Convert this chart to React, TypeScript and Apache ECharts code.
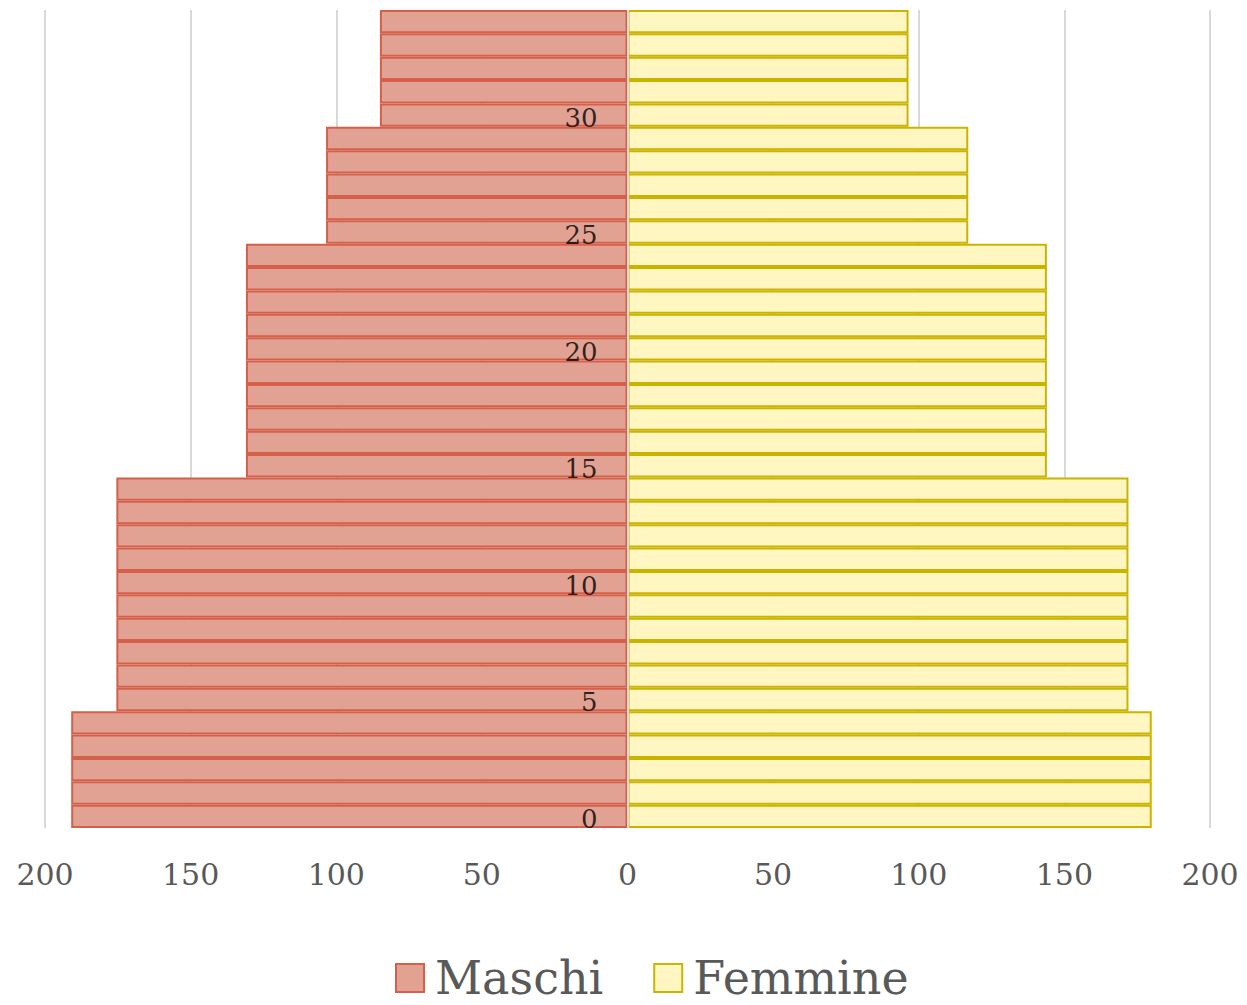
import React, { useEffect, useRef } from "react";
import * as echarts from "echarts";

const ages: string[] = Array.from({ length: 35 }, (_, i) => String(i));
const ageTickLabels: string[] = ["0", "5", "10", "15", "20", "25", "30"];
const maschi: number[] = [
  191, 191, 191, 191, 191,
  175.5, 175.5, 175.5, 175.5, 175.5, 175.5, 175.5, 175.5, 175.5, 175.5,
  131, 131, 131, 131, 131, 131, 131, 131, 131, 131,
  103.5, 103.5, 103.5, 103.5, 103.5,
  85, 85, 85, 85, 85,
];
const femmine: number[] = [
  180, 180, 180, 180, 180,
  172, 172, 172, 172, 172, 172, 172, 172, 172, 172,
  144, 144, 144, 144, 144, 144, 144, 144, 144, 144,
  117, 117, 117, 117, 117,
  96.5, 96.5, 96.5, 96.5, 96.5,
];

const FONT = "'DejaVu Serif', serif";

export default function App() {
  const ref = useRef<HTMLDivElement>(null);
  useEffect(() => {
    if (!ref.current) return;
    const chart = echarts.init(ref.current, undefined, { renderer: "svg" });
    chart.setOption({
      animation: false,
      backgroundColor: "#ffffff",
      grid: {
        left: 45,
        right: 37,
        top: 10,
        bottom: 177,
        containLabel: false,
        outerBoundsMode: "none",
      },
      legend: {
        left: 390,
        top: 948,
        itemWidth: 28,
        itemHeight: 28,
        itemGap: 50,
        icon: "rect",
        textStyle: {
          fontFamily: FONT,
          fontSize: 46,
          lineHeight: 50,
          color: "#595959",
          padding: [0, 0, 0, 6],
        },
        data: ["Maschi", "Femmine"],
      },
      xAxis: {
        type: "value",
        min: -200,
        max: 200,
        interval: 50,
        axisLine: { show: false },
        axisTick: { show: false },
        splitLine: { show: true, lineStyle: { color: "#d9d9d9", width: 2 } },
        axisLabel: {
          fontFamily: FONT,
          fontSize: 30,
          color: "#595959",
          margin: 31,
          formatter: (v: number) => String(Math.abs(v)),
        },
      },
      yAxis: {
        type: "category",
        data: ages,
        axisLine: { show: false },
        axisTick: { show: false },
        axisLabel: { show: false },
        splitLine: { show: false },
      },
      series: [
        {
          name: "Maschi",
          type: "bar",
          data: maschi.map((v) => -v),
          barCategoryGap: 0,
          barGap: "-100%",
          itemStyle: { color: "#e2a293", borderColor: "#d5604a", borderWidth: 2 },
        },
        {
          name: "Femmine",
          type: "bar",
          data: femmine,
          barCategoryGap: 0,
          barGap: "-100%",
          itemStyle: { color: "#fff6c2", borderColor: "#cbb400", borderWidth: 2 },
          markLine: {
            silent: true,
            symbol: "none",
            label: { show: false },
            lineStyle: { color: "#d9d9d9", width: 2, type: "solid" },
            data: [{ xAxis: 0 }],
          },
        },
        {
          name: "ageLabels",
          type: "scatter",
          z: 20,
          symbolSize: 0,
          silent: true,
          data: ageTickLabels.map((a) => [0, a]),
          label: {
            show: true,
            position: "left",
            distance: 30,
            offset: [0, 3],
            fontFamily: FONT,
            fontSize: 26,
            color: "#000000",
            formatter: (p: any) => String(p.value[1]),
          },
        },
      ],
    });
    return () => chart.dispose();
  }, []);
  return (
    <div
      ref={ref}
      style={{ position: "fixed", left: 0, top: 0, width: 1247, height: 1005 }}
    />
  );
}
